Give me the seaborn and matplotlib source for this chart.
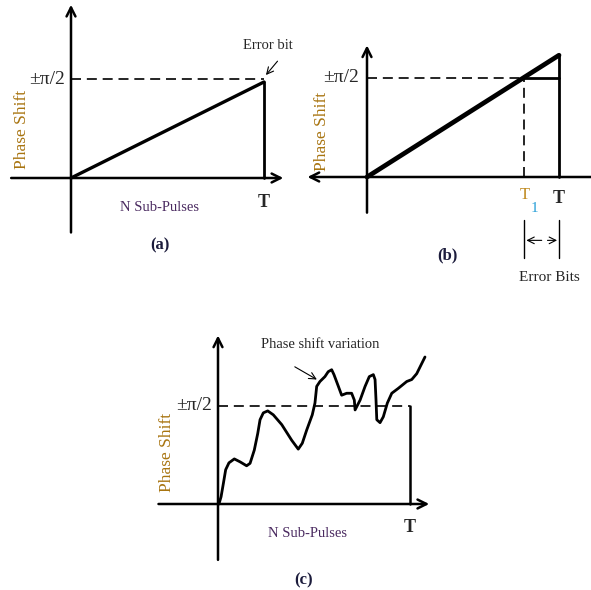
import numpy as np
import matplotlib
matplotlib.use('Agg')
import matplotlib.pyplot as plt
import seaborn as sns

sns.set_theme(style='white')
plt.rcParams['font.family'] = ['Liberation Serif', 'DejaVu Serif']

W, H = 591, 590

# panel (a): linear ramp up to the error bit at T
ramp_a_x = [0.0, 1.0]
ramp_a_y = [0.0, 0.97]

# panel (b): steeper ramp crossing pi/2 at T1
ramp_b_x = [0.0, 1.0]
ramp_b_y = [0.0, 1.23]
t1_b = 0.82

# panel (c): irregular phase shift variation
var_x = [0.005, 0.016, 0.028, 0.040, 0.057, 0.085, 0.115, 0.149, 0.167, 0.189,
         0.207, 0.219, 0.236, 0.259, 0.288, 0.332, 0.384, 0.418, 0.439, 0.462,
         0.491, 0.505, 0.514, 0.531, 0.557, 0.574, 0.592, 0.604, 0.627, 0.644,
         0.670, 0.696, 0.710, 0.714, 0.740, 0.766, 0.788, 0.809, 0.818, 0.823,
         0.827, 0.844, 0.861, 0.882, 0.905, 0.939, 0.983, 1.009, 1.035, 1.078]
var_y = [0.0, 0.074, 0.21, 0.35, 0.42, 0.46, 0.43, 0.39, 0.415, 0.55,
         0.72, 0.86, 0.93, 0.95, 0.91, 0.81, 0.65, 0.56, 0.62, 0.755,
         0.91, 1.03, 1.20, 1.25, 1.30, 1.35, 1.37, 1.32, 1.20, 1.11,
         1.13, 1.13, 1.06, 0.96, 1.06, 1.20, 1.30, 1.32, 1.27, 1.06,
         0.86, 0.83, 0.89, 1.03, 1.13, 1.18, 1.25, 1.27, 1.33, 1.50]

gold = '#a87410'
purple = '#4a2a60'
navy = '#1c1c3c'
dash = (0, (6, 3.5))


def panel_axes(fig, ox, oy, ux, uy):
    # full-figure axes whose data origin sits at pixel (ox, oy) from top-left
    ax = fig.add_axes([0, 0, 1, 1])
    ax.set_xlim(-ox / ux, (W - ox) / ux)
    ax.set_ylim(-(H - oy) / uy, oy / uy)
    ax.axis('off')
    ax.patch.set_alpha(0)
    return ax


def axis_arrow(ax, x0, y0, x1, y1):
    ax.annotate('', xy=(x1, y1), xytext=(x0, y0),
                arrowprops=dict(arrowstyle='->', lw=1.8, color='black',
                                mutation_scale=16, shrinkA=0, shrinkB=0))


def small_arrow(ax, x0, y0, x1, y1):
    ax.annotate('', xy=(x1, y1), xytext=(x0, y0),
                arrowprops=dict(arrowstyle='->', lw=0.8, color='black',
                                shrinkA=0, shrinkB=0))


fig = plt.figure(figsize=(W / 100, H / 100), dpi=100)

# ---- (a)
ax = panel_axes(fig, 71, 178, 193, 99)
axis_arrow(ax, 0, -0.55, 0, 1.75)
axis_arrow(ax, -0.31, 0, 1.10, 0)
sns.lineplot(x=ramp_a_x, y=ramp_a_y, ax=ax, color='black', lw=2.4)
ax.plot([1, 1], [0, ramp_a_y[-1]], color='black', lw=2)
ax.plot([0, 1], [1, 1], color='black', lw=1.2, ls=dash)
ax.text(-0.03, 1, '±π/2', ha='right', va='center', fontsize=14)
ax.text(1.02, 1.34, 'Error bit', ha='center', va='center', fontsize=10.5)
small_arrow(ax, 1.07, 1.18, 1.01, 1.04)
ax.text(1.0, -0.25, 'T', ha='center', va='center', fontsize=13, fontweight='bold')
ax.text(0.46, -0.30, 'N Sub-Pulses', ha='center', va='center', fontsize=10.5, color=purple)
ax.text(0.46, -0.68, '(a)', ha='center', va='center', fontsize=12, fontweight='bold', color=navy)
ax.text(-0.255, 0.49, 'Phase Shift', rotation=90, ha='center', va='center',
        fontsize=12.5, color=gold)

# ---- (b)
ax = panel_axes(fig, 367, 177, 192, 99)
axis_arrow(ax, 0, -0.36, 0, 1.33)
axis_arrow(ax, 1.17, 0, -0.31, 0)
sns.lineplot(x=ramp_b_x, y=ramp_b_y, ax=ax, color='black', lw=3.4)
ax.plot([1, 1], [0, ramp_b_y[-1]], color='black', lw=2)
ax.plot([t1_b, 1], [1, 1], color='black', lw=2)
ax.plot([0, t1_b], [1, 1], color='black', lw=1.2, ls=dash)
ax.plot([t1_b, t1_b], [0, 1], color='black', lw=1.2, ls=dash)
ax.text(-0.04, 1, '±π/2', ha='right', va='center', fontsize=14)
ax.text(t1_b, -0.18, 'T', ha='center', va='center', fontsize=12, color='#c08a20')
ax.text(t1_b + 0.05, -0.32, '1', ha='center', va='center', fontsize=11, color='#2aa0d8')
ax.text(1.0, -0.22, 'T', ha='center', va='center', fontsize=13, fontweight='bold')
for xv in [t1_b, 1.0]:
    ax.plot([xv, xv], [-0.43, -0.82], color='black', lw=1)
small_arrow(ax, t1_b + 0.09, -0.64, t1_b + 0.01, -0.64)
small_arrow(ax, 0.94, -0.64, 0.99, -0.64)
ax.text(0.95, -1.02, 'Error Bits', ha='center', va='center', fontsize=11)
ax.text(0.42, -0.79, '(b)', ha='center', va='center', fontsize=12, fontweight='bold', color=navy)
ax.text(-0.235, 0.46, 'Phase Shift', rotation=90, ha='center', va='center',
        fontsize=12.5, color=gold)

# ---- (c)
ax = panel_axes(fig, 218, 504, 192, 98)
axis_arrow(ax, 0, -0.57, 0, 1.72)
axis_arrow(ax, -0.31, 0, 1.10, 0)
sns.lineplot(x=var_x, y=var_y, ax=ax, color='black', lw=2, sort=False)
ax.plot([1, 1], [0, 1], color='black', lw=1.8)
ax.plot([0, 1], [1, 1], color='black', lw=1.2, ls=dash)
ax.text(-0.03, 1, '±π/2', ha='right', va='center', fontsize=14)
ax.text(0.53, 1.63, 'Phase shift variation', ha='center', va='center', fontsize=10.5)
small_arrow(ax, 0.40, 1.40, 0.515, 1.27)
ax.text(1.0, -0.24, 'T', ha='center', va='center', fontsize=13, fontweight='bold')
ax.text(0.465, -0.30, 'N Sub-Pulses', ha='center', va='center', fontsize=10.5, color=purple)
ax.text(0.445, -0.78, '(c)', ha='center', va='center', fontsize=12, fontweight='bold', color=navy)
ax.text(-0.265, 0.53, 'Phase Shift', rotation=90, ha='center', va='center',
        fontsize=12.5, color=gold)

fig.savefig('out.png', dpi=100, facecolor='white')
